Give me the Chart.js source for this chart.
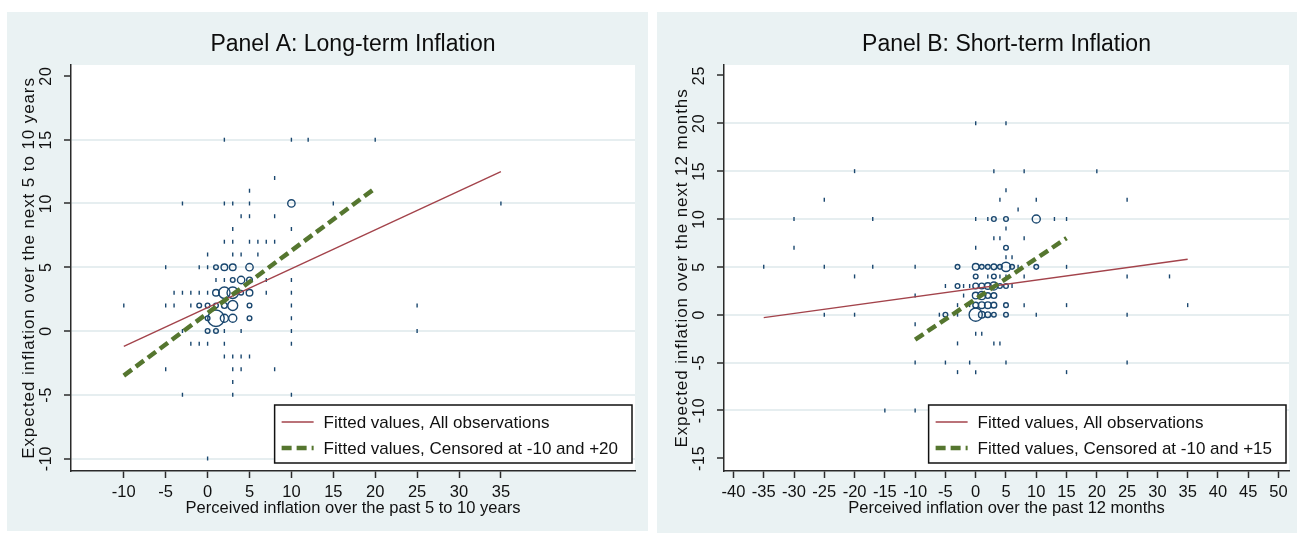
<!DOCTYPE html>
<html>
<head>
<meta charset="utf-8">
<script src="https://cdn.jsdelivr.net/npm/chart.js@4.4.0/dist/chart.umd.min.js"></script>
<style>
  body { margin:0; background:#fff; width:1297px; height:533px; position:relative; overflow:hidden; }
  .panel { position:absolute; background:#eaf2f3; }
  #pa { left:7px; top:12px; width:641px; height:519px; }
  #pb { left:657px; top:12px; width:640px; height:521px; }
  canvas { position:absolute; top:0; }
  #ca { left:0; }
  #cb { left:2px; }
</style>
</head>
<body>
<div class="panel" id="pa"><canvas id="ca" width="641" height="519"></canvas></div>
<div class="panel" id="pb"><canvas id="cb" width="638" height="519"></canvas></div>
<script>
// observations: [perceived, expected, count]
const obsA = [
  [2,15,1],[10,15,1],[12,15,1],[20,15,1],
  [8,12,1],[5,11,1],
  [-3,10,1],[2,10,1],[3,10,1],[5,10,1],[10,10,5],[15,10,1],[35,10,1],
  [4,9,1],[5,9,1],[8,9,1],
  [3,8,1],[10,8,1],
  [2,7,1],[3,7,1],[5,7,1],[6,7,1],[7,7,1],[8,7,1],
  [0,6,1],[3,6,1],[4,6,1],[6,6,1],
  [-5,5,1],[-1,5,1],[0,5,1],[1,5,2],[2,5,4],[3,5,4],[5,5,5],
  [1,4,1],[2,4,1],[3,4,2],[4,4,5],[5,4,3],[7,4,1],[10,4,1],
  [-4,3,1],[-3,3,1],[-2,3,1],[-1,3,1],[0,3,1],[1,3,4],[2,3,12],[3,3,12],[4,3,2],[5,3,4],[7,3,1],[10,3,1],
  [-10,2,1],[-5,2,1],[-4,2,1],[-2,2,1],[-1,2,2],[0,2,2],[1,2,2],[2,2,3],[3,2,9],[5,2,2],[10,2,1],[25,2,1],
  [0,1,2],[1,1,25],[2,1,6],[3,1,6],[5,1,2],[10,1,1],
  [-3,0,1],[0,0,2],[1,0,2],[2,0,1],[4,0,1],[10,0,1],[25,0,1],
  [-2,-1,1],[-1,-1,1],[0,-1,1],[2,-1,1],[10,-1,1],
  [2,-2,1],[3,-2,1],[4,-2,1],[5,-2,1],
  [-5,-3,1],[3,-3,1],[4,-3,1],[8,-3,1],
  [3,-4,1],
  [-3,-5,1],[3,-5,1],[10,-5,1],
  [0,-10,1]
];
const obsB = [
  [0,20,1],[5,20,1],
  [-20,15,1],[3,15,1],[8,15,1],[20,15,1],
  [5,13,1],
  [-25,12,1],[4,12,1],[10,12,1],[25,12,1],
  [7,11,1],
  [-30,10,1],[-17,10,1],[0,10,1],[2,10,1],[3,10,2],[5,10,2],[10,10,6],[13,10,1],[15,10,1],
  [5,9,1],
  [3,8,1],[4,8,1],[8,8,1],
  [-30,7,1],[0,7,1],[5,7,2],
  [5,6,1],[6,6,1],
  [-35,5,1],[-25,5,1],[-17,5,1],[-10,5,1],[-3,5,2],[0,5,4],[1,5,2],[2,5,2],[3,5,3],[4,5,2],[5,5,8],[6,5,2],[7,5,1],[10,5,2],[15,5,1],
  [-20,4,1],[0,4,2],[2,4,1],[3,4,2],[4,4,1],[5,4,1],[8,4,1],[25,4,1],[32,4,1],
  [-5,3,1],[-3,3,2],[-2,3,1],[-1,3,1],[0,3,3],[1,3,3],[2,3,4],[3,3,6],[4,3,2],[5,3,2],[6,3,1],
  [-10,2,1],[-2,2,1],[0,2,4],[1,2,6],[2,2,3],[3,2,3],
  [-3,1,1],[-1,1,1],[0,1,3],[1,1,4],[2,1,4],[3,1,3],[5,1,2],[8,1,1],[15,1,1],[35,1,1],
  [-25,0,1],[-20,0,1],[-6,0,1],[-5,0,2],[-3,0,1],[0,0,16],[1,0,4],[2,0,3],[3,0,2],[5,0,2],[10,0,1],[25,0,1],
  [-10,-1,1],
  [0,-2,1],[1,-2,1],
  [-3,-3,1],[3,-3,1],[4,-3,1],
  [-10,-5,1],[-5,-5,1],[-1,-5,1],[5,-5,1],[25,-5,1],
  [-3,-6,1],[0,-6,1],[15,-6,1],
  [-15,-10,1],[-10,-10,1]
];

// fitted lines (endpoints)
const fitAllA = [[-10,-1.2],[35,12.5]];
const fitCensA = [[-10,-3.5],[20,11.2]];
const fitAllB = [[-35,-0.3],[35,5.8]];
const fitCensB = [[-10,-2.6],[15,8.0]];

// ticks
const xTicksA = [-10,-5,0,5,10,15,20,25,30,35];
const yTicksA = [-10,-5,0,5,10,15,20];
const xTicksB = [-40,-35,-30,-25,-20,-15,-10,-5,0,5,10,15,20,25,30,35,40,45,50];
const yTicksB = [-15,-10,-5,0,5,10,15,20,25];

const navy = '#1a476f', maroon = '#a3434b', green = '#55762f', axisCol = '#2a2a2a';
const FONT = "'Liberation Sans', Arial, sans-serif";

const plotBg = {
  id: 'plotBg',
  beforeDraw(chart) {
    const {ctx, chartArea: a} = chart;
    ctx.save();
    ctx.fillStyle = '#fff';
    ctx.fillRect(a.left, a.top, a.right - a.left, a.bottom - a.top);
    ctx.restore();
  }
};

// rotated y labels, y title and the boxed legend inside the plot
const stataText = {
  id: 'stataText',
  afterDraw(chart, args, opts) {
    const {ctx, chartArea: a} = chart;
    const ys = chart.scales.y;
    ctx.save();
    ctx.fillStyle = '#111';
    ctx.textAlign = 'center';
    ctx.textBaseline = 'alphabetic';
    ctx.font = '16px ' + FONT;
    ctx.letterSpacing = '0.8px';
    opts.yTicks.forEach(v => {
      ctx.save();
      ctx.translate(a.left - 20, ys.getPixelForValue(v));
      ctx.rotate(-Math.PI / 2);
      ctx.fillText(String(v), 0, 0);
      ctx.restore();
    });
    ctx.save();
    ctx.font = '17px ' + FONT;
    ctx.letterSpacing = '0.9px';
    ctx.translate(a.left - 37, (a.top + a.bottom) / 2);
    ctx.rotate(-Math.PI / 2);
    ctx.fillText(opts.yTitle, 0, 0);
    ctx.restore();

    // legend
    const items = chart.data.datasets.filter(d => d.inLegend);
    ctx.letterSpacing = '0px';
    ctx.textBaseline = 'middle';
    ctx.font = '17px ' + FONT;
    const tw = Math.max(...items.map(d => ctx.measureText(d.label).width));
    const w = 49 + tw + 14, h = 58;
    const bx = a.right - 3 - w, by = a.bottom - 8 - h;
    ctx.fillStyle = '#fff';
    ctx.fillRect(bx, by, w, h);
    ctx.strokeStyle = '#111';
    ctx.lineWidth = 1.5;
    ctx.strokeRect(bx, by, w, h);
    items.forEach((d, i) => {
      const cy = by + 17 + i * 26;
      ctx.save();
      ctx.strokeStyle = d.borderColor;
      ctx.lineWidth = d.borderWidth;
      ctx.setLineDash(d.borderDash || []);
      ctx.beginPath();
      ctx.moveTo(bx + 7, cy);
      ctx.lineTo(bx + 39, cy);
      ctx.stroke();
      ctx.restore();
      ctx.fillStyle = '#111';
      ctx.textAlign = 'left';
      ctx.fillText(d.label, bx + 49, cy + 1);
    });
    ctx.restore();
  }
};

function pts(arr) { return arr.map(p => ({x: p[0], y: p[1], n: p[2]})); }

function makePanel(id, o) {
  return new Chart(document.getElementById(id), {
    type: 'scatter',
    data: {
      datasets: [
        {
          label: 'obs', data: pts(o.obs), order: 3,
          borderColor: navy, backgroundColor: 'rgba(0,0,0,0)', borderWidth: 1.4,
          pointStyle: c => (c.raw && c.raw.n === 1) ? 'line' : 'circle',
          rotation: c => (c.raw && c.raw.n === 1) ? 90 : 0,
          pointRadius: c => !c.raw ? 0 : (c.raw.n === 1 ? 2 : 1.65 * Math.sqrt(c.raw.n))
        },
        {
          label: 'Fitted values, All observations', data: pts(o.fitAll), inLegend: true,
          showLine: true, pointRadius: 0, borderColor: maroon, borderWidth: 1.4, order: 2
        },
        {
          label: o.censLabel, data: pts(o.fitCens), inLegend: true,
          showLine: true, pointRadius: 0, borderColor: green, borderWidth: 4.5,
          borderDash: [10, 5], order: 1
        }
      ]
    },
    options: {
      responsive: false,
      animation: false,
      events: [],
      layout: { padding: { right: o.padRight, left: 0, top: 0, bottom: 0 } },
      plugins: {
        legend: { display: false },
        tooltip: { enabled: false },
        title: {
          display: true, text: o.title, fullSize: false, color: '#0d0d0d',
          font: { family: FONT, size: 23, weight: 'normal' },
          padding: { top: 19.2, bottom: 6.2 }
        },
        stataText: { yTicks: o.yTicks, yTitle: o.yTitle }
      },
      scales: {
        x: {
          type: 'linear', min: o.xMin, max: o.xMax, bounds: 'data',
          afterBuildTicks: ax => { ax.ticks = o.xTicks.map(v => ({value: v})); },
          afterFit: s => { s.height = 60; },
          grid: { drawOnChartArea: false, drawTicks: true, tickLength: 7, tickColor: axisCol, tickWidth: 1.5 },
          border: { color: axisCol, width: 1.5 },
          ticks: { color: '#111', font: { family: FONT, size: 16.5 }, padding: 5, maxRotation: 0, autoSkip: false },
          title: {
            display: true, text: o.xTitle, color: '#111',
            font: { family: FONT, size: 16.5 }, padding: { top: 0, bottom: 12.8 }
          }
        },
        y: {
          type: 'linear', min: o.yMin, max: o.yMax, bounds: 'data',
          afterBuildTicks: ax => { ax.ticks = o.yTicks.map(v => ({value: v})); },
          afterFit: s => { s.width = o.yWidth; },
          grid: {
            color: c => (c.tick && o.yGridSkip.includes(c.tick.value)) ? 'rgba(0,0,0,0)' : '#e6eef0',
            lineWidth: 2, drawTicks: true, tickLength: 7, tickColor: axisCol, tickWidth: 1.5
          },
          border: { color: axisCol, width: 1.5 },
          ticks: { display: false }
        }
      }
    },
    plugins: [plotBg, stataText]
  });
}

makePanel('ca', {
  obs: obsA, fitAll: fitAllA, fitCens: fitCensA,
  censLabel: 'Fitted values, Censored at -10 and +20',
  title: 'Panel A: Long-term Inflation',
  xTitle: 'Perceived inflation over the past 5 to 10 years',
  yTitle: 'Expected inflation over the next 5 to 10 years',
  xTicks: xTicksA, yTicks: yTicksA, yGridSkip: [20],
  xMin: -16.3, xMax: 51.0, yMin: -10.98, yMax: 20.86,
  yWidth: 64, padRight: 13
});

makePanel('cb', {
  obs: obsB, fitAll: fitAllB, fitCens: fitCensB,
  censLabel: 'Fitted values, Censored at -10 and +15',
  title: 'Panel B: Short-term Inflation',
  xTitle: 'Perceived inflation over the past 12 months',
  yTitle: 'Expected inflation over the next 12 months',
  xTicks: xTicksB, yTicks: yTicksB, yGridSkip: [25, -15],
  xMin: -41.56, xMax: 51.73, yMin: -16.33, yMax: 26.09,
  yWidth: 65, padRight: 8
});
</script>
</body>
</html>
